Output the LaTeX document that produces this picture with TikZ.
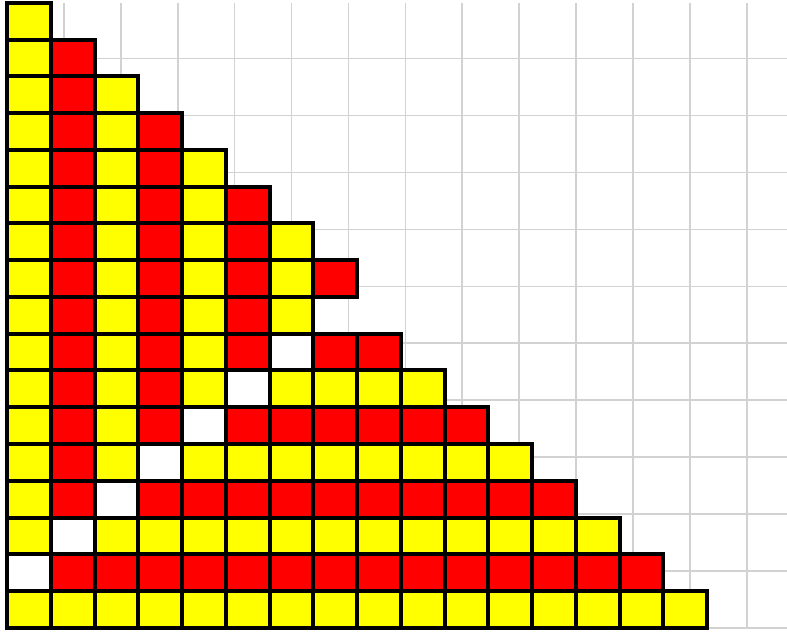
\documentclass[tikz,border=0pt]{standalone}
\usepackage{xcolor}
\usepackage{tikz}
\definecolor{cellyellow}{HTML}{FFFF00}
\definecolor{cellred}{HTML}{FF0000}
\definecolor{papergray}{HTML}{D2D2D2}

\begin{document}
\begin{tikzpicture}[
      x=21.875pt, y=18.375pt,
      cell/.style={draw, line width=2pt, minimum width=21.875pt, minimum height=18.375pt, inner sep=0pt, outer sep=0pt},
      paper/.style={draw=papergray, line width=0.8pt}
    ]
    \useasboundingbox (-0.16,-0.1156) rectangle (17.8286,17.0816);
    \draw[paper] (0,0) grid (17.8286,17);

    % row \r counted from the top, column \c from the left
    \foreach \r in {0,...,16} {
      \foreach \c in {0,...,\r} {
        \pgfmathtruncatemacro{\diag}{15-\r}
        \pgfmathtruncatemacro{\gap}{((\r==8)&&(\c>6)) || ((\r>8)&&(\c==\r))}
        \ifnum\c=\diag \def\tone{white}\else
          \ifnum\c>\diag
            \ifodd\r \def\tone{cellred}\else \def\tone{cellyellow}\fi
          \else
            \ifodd\c \def\tone{cellred}\else \def\tone{cellyellow}\fi
          \fi
        \fi
        \ifnum\gap=0
          \node[cell, fill=\tone] (cell-\r-\c) at (\c+0.5, 16.5-\r) {};
        \fi
      }
    }
  \end{tikzpicture}
\end{document}
